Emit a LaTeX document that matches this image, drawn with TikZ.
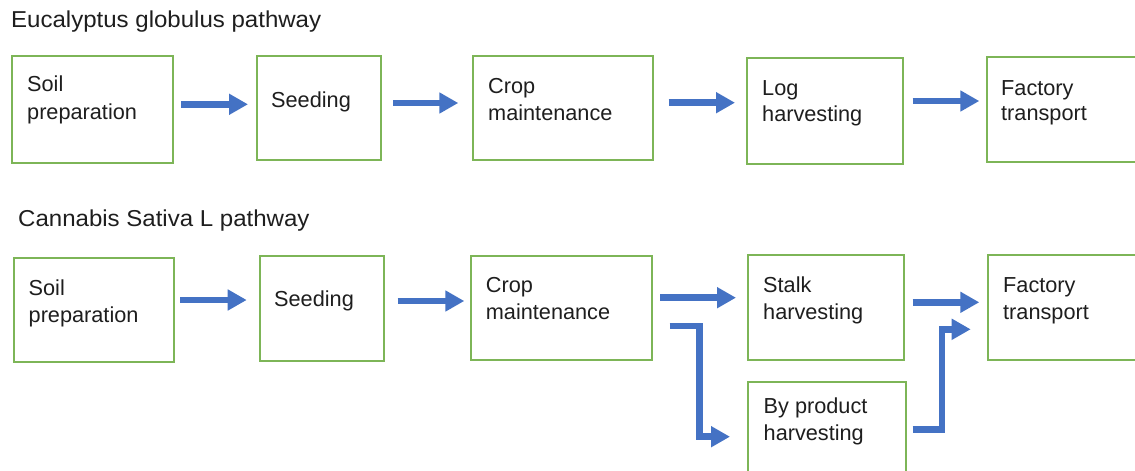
\documentclass[tikz,border=0pt]{standalone}
\usepackage{fontspec}
\usepackage{graphicx}
\setmainfont{Liberation Sans}
\usetikzlibrary{arrows.meta}
\definecolor{boxgreen}{HTML}{7DB557}
\definecolor{flowblue}{HTML}{4472C4}
\definecolor{inktext}{HTML}{1E1E1E}
\tikzset{
  stagebox/.style={draw=boxgreen, line width=2pt, rectangle, inner sep=0pt,
    anchor=north west},
  txt/.style={anchor=base west, inner sep=0pt, text=inktext,
    font=\fontsize{21.7}{27}\selectfont},
  heading/.style={anchor=base west, inner sep=0pt, text=inktext,
    font=\fontsize{23}{28}\selectfont},
  flow/.style={draw=flowblue, line width=6.8pt, line join=miter,
    -{Triangle[length=19pt,width=20pt]}},
}
\newcommand{\wide}[1]{\scalebox{1.045}[1]{#1}}
\begin{document}
\begin{tikzpicture}[x=1pt,y=-1pt]
\useasboundingbox (0,0) rectangle (1135,471);
\clip (0,0) rectangle (1135,471);
\fill[white] (0,0) rectangle (1135,471);

% ---------- Eucalyptus globulus ----------
\node[heading] (t1) at (11,27.7) {\wide{Eucalyptus globulus pathway}};

\node[stagebox, minimum width=160.7pt, minimum height=106.7pt] (a1) at (11,55) {};
\node[stagebox, minimum width=124.3pt, minimum height=104pt] (a2) at (255.7,55) {};
\node[stagebox, minimum width=180.6pt, minimum height=104.3pt] (a3) at (471.7,55) {};
\node[stagebox, minimum width=155.7pt, minimum height=106pt] (a4) at (746,56.7) {};
\node[stagebox, minimum width=170pt, minimum height=105pt] (a5) at (985.7,55.7) {};

\node[txt] (a1l1) at (27,91.7) {Soil};
\node[txt] (a1l2) at (27,119) {preparation};
\node[txt] (a2l1) at (271,107.3) {Seeding};
\node[txt] (a3l1) at (488,93.3) {Crop};
\node[txt] (a3l2) at (488,120.7) {maintenance};
\node[txt] (a4l1) at (762,95) {Log};
\node[txt] (a4l2) at (762,121) {harvesting};
\node[txt] (a5l1) at (1001,95) {Factory};
\node[txt] (a5l2) at (1001,120.7) {transport};

\draw[flow] ([xshift=7.3pt]a1.east |- 0,104.3) -- ([xshift=-7.7pt]a2.west |- 0,104.3);
\draw[flow] ([xshift=11pt]a2.east |- 0,103) -- ([xshift=-13.4pt]a3.west |- 0,103);
\draw[flow] ([xshift=14.4pt]a3.east |- 0,102.7) -- ([xshift=-11pt]a4.west |- 0,102.7);
\draw[flow] ([xshift=9pt]a4.east |- 0,101) -- ([xshift=-6.4pt]a5.west |- 0,101);

% ---------- Cannabis Sativa L ----------
\node[heading] (t2) at (18,226.7) {\wide{Cannabis Sativa L pathway}};

\node[stagebox, minimum width=160.6pt, minimum height=104.3pt] (b1) at (12.7,256.7) {};
\node[stagebox, minimum width=124.3pt, minimum height=105pt] (b2) at (259,255) {};
\node[stagebox, minimum width=181pt, minimum height=104.3pt] (b3) at (470,255) {};
\node[stagebox, minimum width=156pt, minimum height=105.3pt] (b4) at (747.3,254) {};
\node[stagebox, minimum width=170pt, minimum height=105.3pt] (b5) at (986.7,254) {};
\node[stagebox, minimum width=157.7pt, minimum height=110pt] (b6) at (747.3,381) {};

\node[txt] (b1l1) at (28.5,295.7) {Soil};
\node[txt] (b1l2) at (28.5,322.7) {preparation};
\node[txt] (b2l1) at (274,306.7) {Seeding};
\node[txt] (b3l1) at (485.7,292.3) {Crop};
\node[txt] (b3l2) at (485.7,319) {maintenance};
\node[txt] (b4l1) at (763,292.7) {Stalk};
\node[txt] (b4l2) at (763,319) {harvesting};
\node[txt] (b5l1) at (1003,292.7) {Factory};
\node[txt] (b5l2) at (1003,319) {transport};
\node[txt] (b6l1) at (763.5,413.3) {By product};
\node[txt] (b6l2) at (763.5,440) {harvesting};

\draw[flow] ([xshift=5pt]b1.east |- 0,300) -- ([xshift=-12.3pt]b2.west |- 0,300);
\draw[flow] ([xshift=12.4pt]b2.east |- 0,301) -- ([xshift=-5.7pt]b3.west |- 0,301);
\draw[flow] ([xshift=7.3pt]b3.east |- 0,297.7) -- ([xshift=-11.3pt]b4.west |- 0,297.7);
\draw[flow] ([xshift=7.4pt]b4.east |- 0,302.3) -- ([xshift=-7.4pt]b5.west |- 0,302.3);
% branch to the by-product stage
\draw[flow] ([xshift=16.7pt]b3.east |- 0,326) -| ([xshift=-48pt]b6.west |- 0,436.7)
  -- ([xshift=-17.3pt]b6.west |- 0,436.7);
% by-product joins the factory transport
\draw[flow] ([xshift=5.7pt]b6.east |- 0,429.7) -| ([xshift=-44.7pt]b5.west |- 0,329.3)
  -- ([xshift=-16pt]b5.west |- 0,329.3);
\end{tikzpicture}
\end{document}
